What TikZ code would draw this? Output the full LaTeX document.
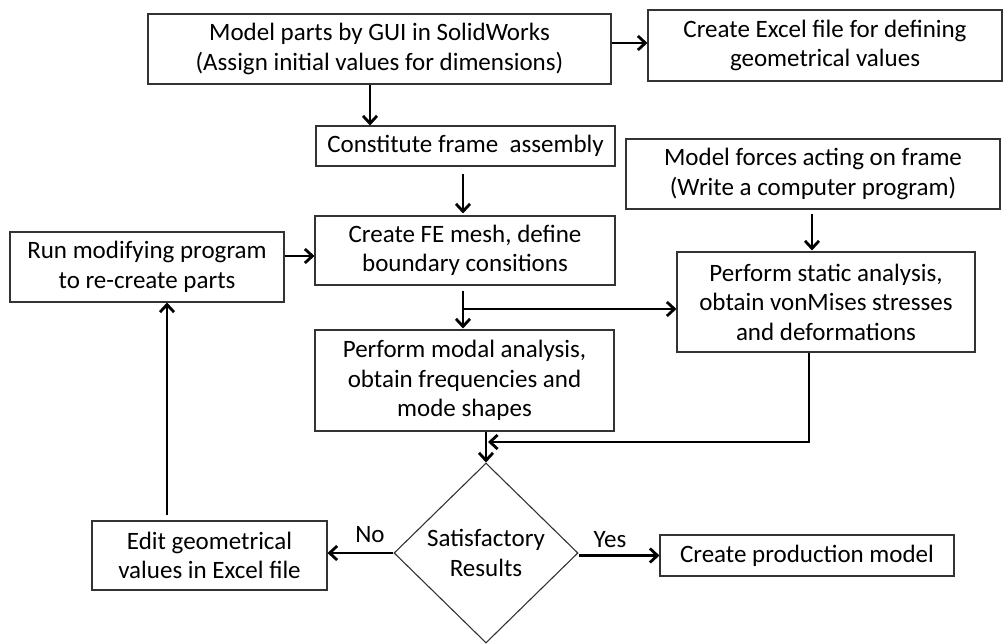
\documentclass[tikz,border=0pt]{standalone}
\usepackage{fontspec}
\setmainfont{Carlito}
\usetikzlibrary{arrows.meta,shapes.geometric,calc}
\tikzset{
  box/.style={draw=black!80, line width=1.1pt, align=center, inner sep=0pt},
  arr/.style={line width=2.8pt, -{Straight Barb[length=7.5pt,width=14pt]}},
  lbl/.style={inner sep=0pt}
}
\begin{document}
\begin{tikzpicture}[x=1pt,y=-1pt,font=\fontsize{25}{29.5}\selectfont]
\useasboundingbox (0,0) rectangle (1004,643);
\node[box,minimum width=463pt,minimum height=70pt] (box1) at (379.5,49) {Model parts by GUI in SolidWorks\\(Assign initial values for dimensions)};
\node[box,minimum width=354pt,minimum height=71pt] (excel) at (825,45.5) {Create Excel file for defining\\geometrical values};
\node[box,minimum width=299pt,minimum height=40pt] (const) at (465.5,146) {Constitute frame\ \ assembly};
\node[box,minimum width=374pt,minimum height=70pt] (forces) at (813,174) {Model forces acting on frame\\(Write a computer program)};
\node[box,minimum width=300pt,minimum height=69pt] (fe) at (465,250.5) {Create FE mesh, define\\boundary consitions};
\node[box,minimum width=274pt,minimum height=70pt] (run) at (147,267) {Run modifying program\\to re-create parts};
\node[box,minimum width=298pt,minimum height=100pt] (static) at (826,302) {Perform static analysis,\\obtain vonMises stresses\\and deformations};
\node[box,minimum width=299pt,minimum height=101pt] (modal) at (464.5,380.5) {Perform modal analysis,\\obtain frequencies and\\mode shapes};
\node[box,shape=diamond,minimum width=184pt,minimum height=180pt] (dia) at (486,553) {Satisfactory\\Results};
\node[box,minimum width=235pt,minimum height=69pt] (edit) at (209.5,555.5) {Edit geometrical\\values in Excel file};
\node[box,minimum width=294pt,minimum height=41pt] (prod) at (807,555.5) {Create production model};
\node[lbl] (no) at (370,535) {No};
\node[lbl] (yes) at (610,540) {Yes};
\coordinate (br) at (463,309);
\coordinate (join) at (488,442);
% connectors
\draw[arr] (box1.east |- 0,43) -- (excel.west |- 0,43);
\draw[arr] ([xshift=-9.5pt]box1.south) -- ([xshift=-9.5pt]box1.south |- const.north);
\draw[arr,shorten <=7pt,shorten >=2pt] ([xshift=-2.5pt]const.south) -- ([xshift=-2.5pt]const.south |- fe.north);
\draw[arr,shorten <=4pt,shorten >=1pt] ([xshift=-1pt]forces.south) -- ([xshift=-1pt]forces.south |- static.north);
\draw[arr] ([yshift=11pt]run.east) -- ([yshift=11pt]run.east -| fe.west);
\draw[arr,shorten <=5pt,shorten >=1pt] ([xshift=-2pt]fe.south) -- ([xshift=-2pt]fe.south |- modal.north);
\draw[arr] (br) -- (br -| static.west);
\draw[arr] ([xshift=-17pt]static.south) |- (join);
\draw[arr] (dia.north |- modal.south) -- (dia.north);
\draw[arr] (dia.west) -- (dia.west -| edit.east);
\draw[arr] (dia.east |- prod.west) -- (prod.west);
\draw[arr,shorten <=5pt] ([xshift=-42.5pt]edit.north) -- ([xshift=-42.5pt]edit.north |- run.south);
\end{tikzpicture}
\end{document}
